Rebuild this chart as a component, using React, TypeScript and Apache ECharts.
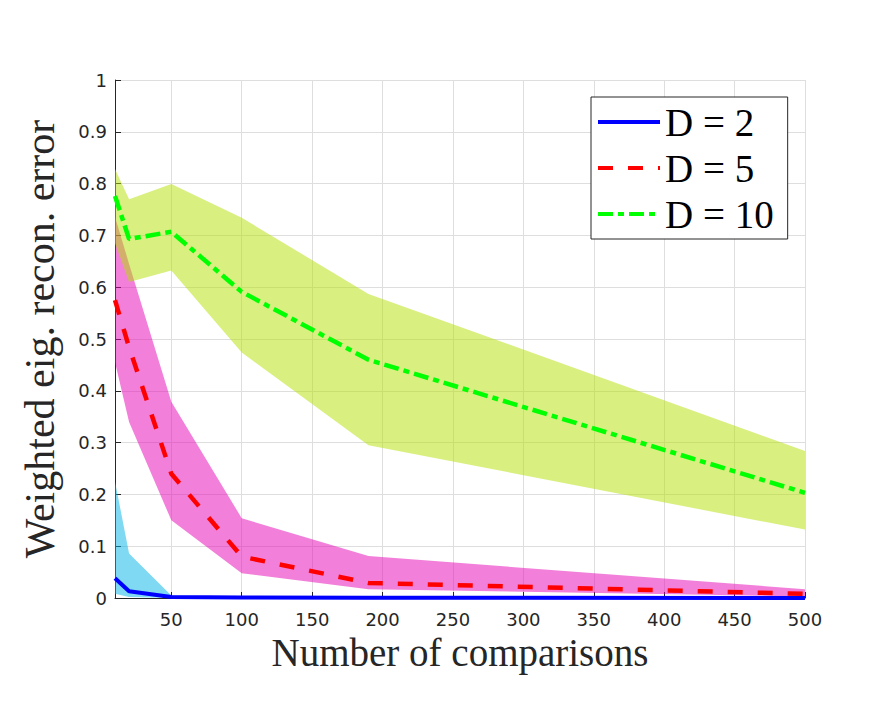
import React, { useEffect, useRef } from "react";
import * as echarts from "echarts";

// Number of comparisons (x samples)
const xs = [10, 20, 50, 100, 190, 500];
const xTicks = [50, 100, 150, 200, 250, 300, 350, 400, 450, 500];

// D = 2
const meanD2 = [0.038, 0.013, 0.002, 0.0008, 0.0004, 0.0002];
const upperD2 = [0.225, 0.086, 0.005, 0.003, 0.002, 0.001];
const lowerD2 = [0.008, 0.002, 0, 0, 0, 0];

// D = 5
const meanD5 = [0.575, 0.484, 0.24, 0.08, 0.029, 0.008];
const upperD5 = [0.736, 0.645, 0.379, 0.154, 0.081, 0.017];
const lowerD5 = [0.455, 0.34, 0.15, 0.048, 0.017, 0.003];

// D = 10
const meanD10 = [0.776, 0.693, 0.707, 0.591, 0.46, 0.203];
const upperD10 = [0.828, 0.77, 0.799, 0.734, 0.587, 0.284];
const lowerD10 = [0.685, 0.61, 0.632, 0.474, 0.295, 0.132];

const names = ["D = 2", "D = 5", "D = 10"];

function pairs(v: number[]) {
  return xs.map((x, i) => [x, v[i]]);
}

function band(id: string, up: number[], lo: number[], color: string) {
  return {
    name: id,
    type: "custom",
    silent: true,
    data: xs.map((x, i) => [x, lo[i], up[i]]),
    encode: { x: 0, y: [1, 2] },
    renderItem: (params: any, api: any) => {
      if (params.dataIndex !== 0) return null;
      const points: number[][] = [];
      for (let i = 0; i < xs.length; i++) points.push(api.coord([xs[i], up[i]]));
      for (let i = xs.length - 1; i >= 0; i--) points.push(api.coord([xs[i], lo[i]]));
      return {
        type: "polygon",
        shape: { points },
        style: { fill: color, stroke: "none" },
      };
    },
  };
}

export default function App() {
  const ref = useRef<HTMLDivElement>(null);
  useEffect(() => {
    document.body.style.margin = "0";
    const chart = echarts.init(ref.current!, null, { renderer: "svg" });
    const tickColor = "#262626";
    const gridColor = "#dedede";
    const option: any = {
      animation: false,
      backgroundColor: "#ffffff",
      grid: { left: 115, top: 80, width: 690, height: 518, containLabel: false },
      legend: {
        data: names,
        orient: "vertical",
        left: 591,
        top: 97,
        padding: [5, 14, 5, 5],
        itemWidth: 62,
        itemHeight: 20,
        itemGap: 6,
        backgroundColor: "#ffffff",
        borderColor: "#262626",
        borderWidth: 1,
        borderRadius: 0,
        lineStyle: { width: 4 },
        itemStyle: { opacity: 0, color: "rgba(0,0,0,0)", borderWidth: 0 },
        textStyle: {
          fontFamily: "Liberation Serif",
          fontSize: 39,
          lineHeight: 40,
          color: "#000000",
        },
      },
      xAxis: {
        type: "value",
        min: 10,
        max: 500,
        name: "Number of comparisons",
        nameLocation: "middle",
        nameGap: 30,
        nameTextStyle: { fontFamily: "Liberation Serif", fontSize: 39, color: tickColor },
        axisLine: { show: true, onZero: false, lineStyle: { color: tickColor, width: 1 } },
        axisTick: { show: true, inside: true, length: 6, customValues: xTicks, lineStyle: { color: tickColor } },
        axisLabel: {
          customValues: xTicks,
          margin: 12,
          fontFamily: "DejaVu Sans",
          fontSize: 18,
          color: tickColor,
        },
        splitLine: { show: true, lineStyle: { color: gridColor, width: 1 } },
      },
      yAxis: {
        type: "value",
        min: 0,
        max: 1,
        interval: 0.1,
        name: "Weighted eig. recon. error",
        nameLocation: "middle",
        nameGap: 54,
        nameTextStyle: { fontFamily: "Liberation Serif", fontSize: 42, color: tickColor },
        axisLine: { show: true, onZero: false, lineStyle: { color: tickColor, width: 1 } },
        axisTick: { show: true, inside: true, length: 6, lineStyle: { color: tickColor } },
        axisLabel: { margin: 8, fontFamily: "DejaVu Sans", fontSize: 18, color: tickColor },
        splitLine: { show: true, lineStyle: { color: gridColor, width: 1 } },
      },
      series: [
        band("b2", upperD2, lowerD2, "rgba(0,179,230,0.5)"),
        band("b5", upperD5, lowerD5, "rgba(230,0,179,0.5)"),
        band("b10", upperD10, lowerD10, "rgba(179,224,0,0.5)"),
        {
          name: names[0],
          type: "line",
          data: pairs(meanD2),
          symbol: "none",
          lineStyle: { color: "#0000ff", width: 4, type: "solid" },
          itemStyle: { color: "#0000ff" },
        },
        {
          name: names[1],
          type: "line",
          data: pairs(meanD5),
          symbol: "none",
          lineStyle: { color: "#ff0000", width: 4.5, type: [15, 15] },
          itemStyle: { color: "#ff0000" },
        },
        {
          name: names[2],
          type: "line",
          data: pairs(meanD10),
          symbol: "none",
          lineStyle: { color: "#00ff00", width: 4.5, type: [15, 5, 6, 5] },
          itemStyle: { color: "#00ff00" },
        },
      ],
    };
    chart.setOption(option);
    return () => chart.dispose();
  }, []);
  return <div ref={ref} style={{ width: 891, height: 703 }} />;
}
